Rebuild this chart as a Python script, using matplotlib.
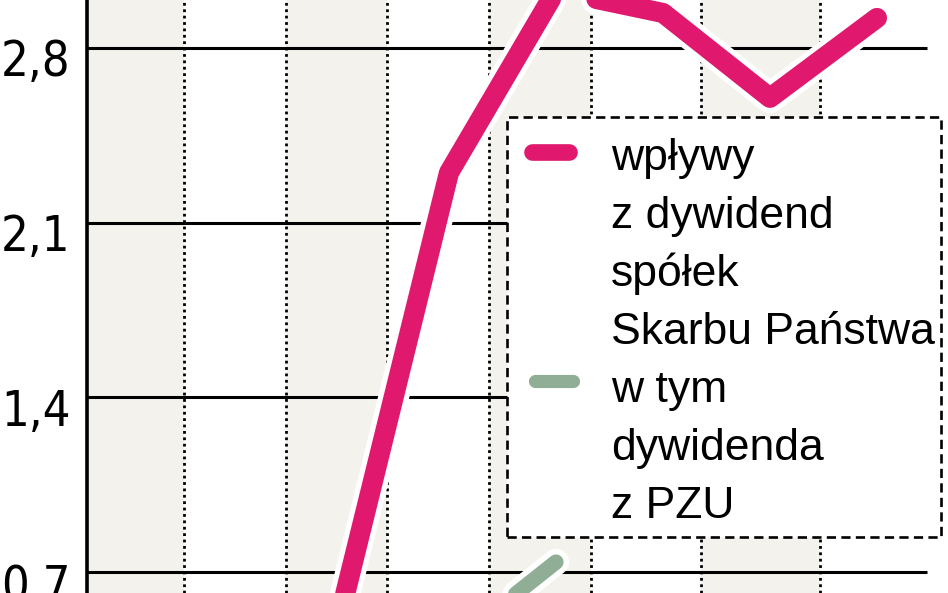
import matplotlib
matplotlib.use("Agg")
import matplotlib.pyplot as plt
import matplotlib.patheffects as pe
from matplotlib import font_manager
from matplotlib.transforms import ScaledTranslation
from matplotlib.patches import Rectangle

# data (x = position of the data point, y in bn zl)
points = [0, 1, 2, 3, 4, 5]
wplywy = [0.56, 2.30, 3.03, 2.94, 2.60, 2.92]
pzu_x = [1, 2]
pzu = [0.40, 0.74]
yticks = [0.7, 1.4, 2.1, 2.8]
ytick_labels = ["0,7", "1,4", "2,1", "2,8"]
legend_pink = ["wpływy", "z dywidend", "spółek", "Skarbu Państwa"]
legend_green = ["w tym", "dywidenda", "z PZU"]

# layout (the chart is cropped from a bigger one)
vlines_x = [-1.477, -0.523, 0.421, 1.374, 2.327, 3.355, 4.467]
shade_cols = [(-2.383, -1.477), (-0.523, 0.421), (1.374, 2.327), (3.355, 4.467)]
grid_right = 5.467

PINK = "#e0196e"
GREEN = "#8fae95"
SHADE = "#f3f2ec"

# narrow font for the tick numbers if one is there
fonts = font_manager.fontManager.ttflist
names = {f.name for f in fonts}
tick_kw = dict(family="Liberation Sans", fontsize=33)
if "Liberation Sans Narrow" in names:
    tick_kw = dict(family="Liberation Sans Narrow", fontsize=38)
elif any(f.name == "DejaVu Sans" and f.stretch == "condensed" for f in fonts):
    tick_kw = dict(family="DejaVu Sans", fontstretch="condensed", fontsize=35)
text_font = "Liberation Sans"

W, H = 948, 593
fig = plt.figure(figsize=(W / 100, H / 100), dpi=100)
ax = fig.add_axes([87 / W, 0, 1 - 87 / W, 1])
ax.set_xlim(-2.383, 5.664)
ax.set_ylim(0.616, 2.992)

for a, b in shade_cols:
    ax.axvspan(a, b, color=SHADE, lw=0, zorder=0)
for x in vlines_x:
    ax.axvline(x, color="black", lw=2.0, ls=(0, (1, 1.3)), zorder=1)
ax.hlines(yticks, -2.383, grid_right, color="black", lw=2.2, zorder=1)

halo = lambda w: [pe.Stroke(linewidth=w, foreground="white"), pe.Normal()]
ax.plot(pzu_x, pzu, color=GREEN, lw=11, solid_capstyle="round", zorder=3,
        path_effects=halo(19))
ax.plot(points, wplywy, color=PINK, lw=14.5, solid_capstyle="round",
        solid_joinstyle="round", zorder=4, path_effects=halo(22))

for s in ["top", "right", "bottom"]:
    ax.spines[s].set_visible(False)
ax.spines["left"].set_linewidth(2.6)
ax.spines["left"].set_zorder(6)
ax.set_xticks([])
ax.set_yticks(yticks)
ax.set_yticklabels(ytick_labels, **tick_kw)
ax.tick_params(axis="y", length=0, pad=12)
for lab in ax.get_yticklabels():
    lab.set_transform(lab.get_transform() + ScaledTranslation(0, -0.095, fig.dpi_scale_trans))

# legend box drawn by hand (handles sit on the first line of each label)
fx = lambda px: px / W
fy = lambda py: 1 - py / H
box = Rectangle((fx(507), fy(537)), fx(941) - fx(507), fy(117) - fy(537),
                transform=fig.transFigure, facecolor="white", edgecolor="black",
                lw=1.9, ls=(0, (3.5, 2.0)), zorder=10)
fig.add_artist(box)
fig.add_artist(plt.Line2D([fx(532), fx(569)], [fy(152), fy(152)], color=PINK, lw=12,
                          solid_capstyle="round", transform=fig.transFigure, zorder=11))
fig.add_artist(plt.Line2D([fx(535), fx(573)], [fy(381), fy(381)], color=GREEN, lw=9.5,
                          solid_capstyle="round", transform=fig.transFigure, zorder=11))
base = 170
for i, line in enumerate(legend_pink + legend_green):
    fig.text(fx(611), fy(base + 58 * i), line, fontsize=32, family=text_font,
             va="baseline", ha="left", zorder=12)

fig.savefig("out.png", dpi=100)
